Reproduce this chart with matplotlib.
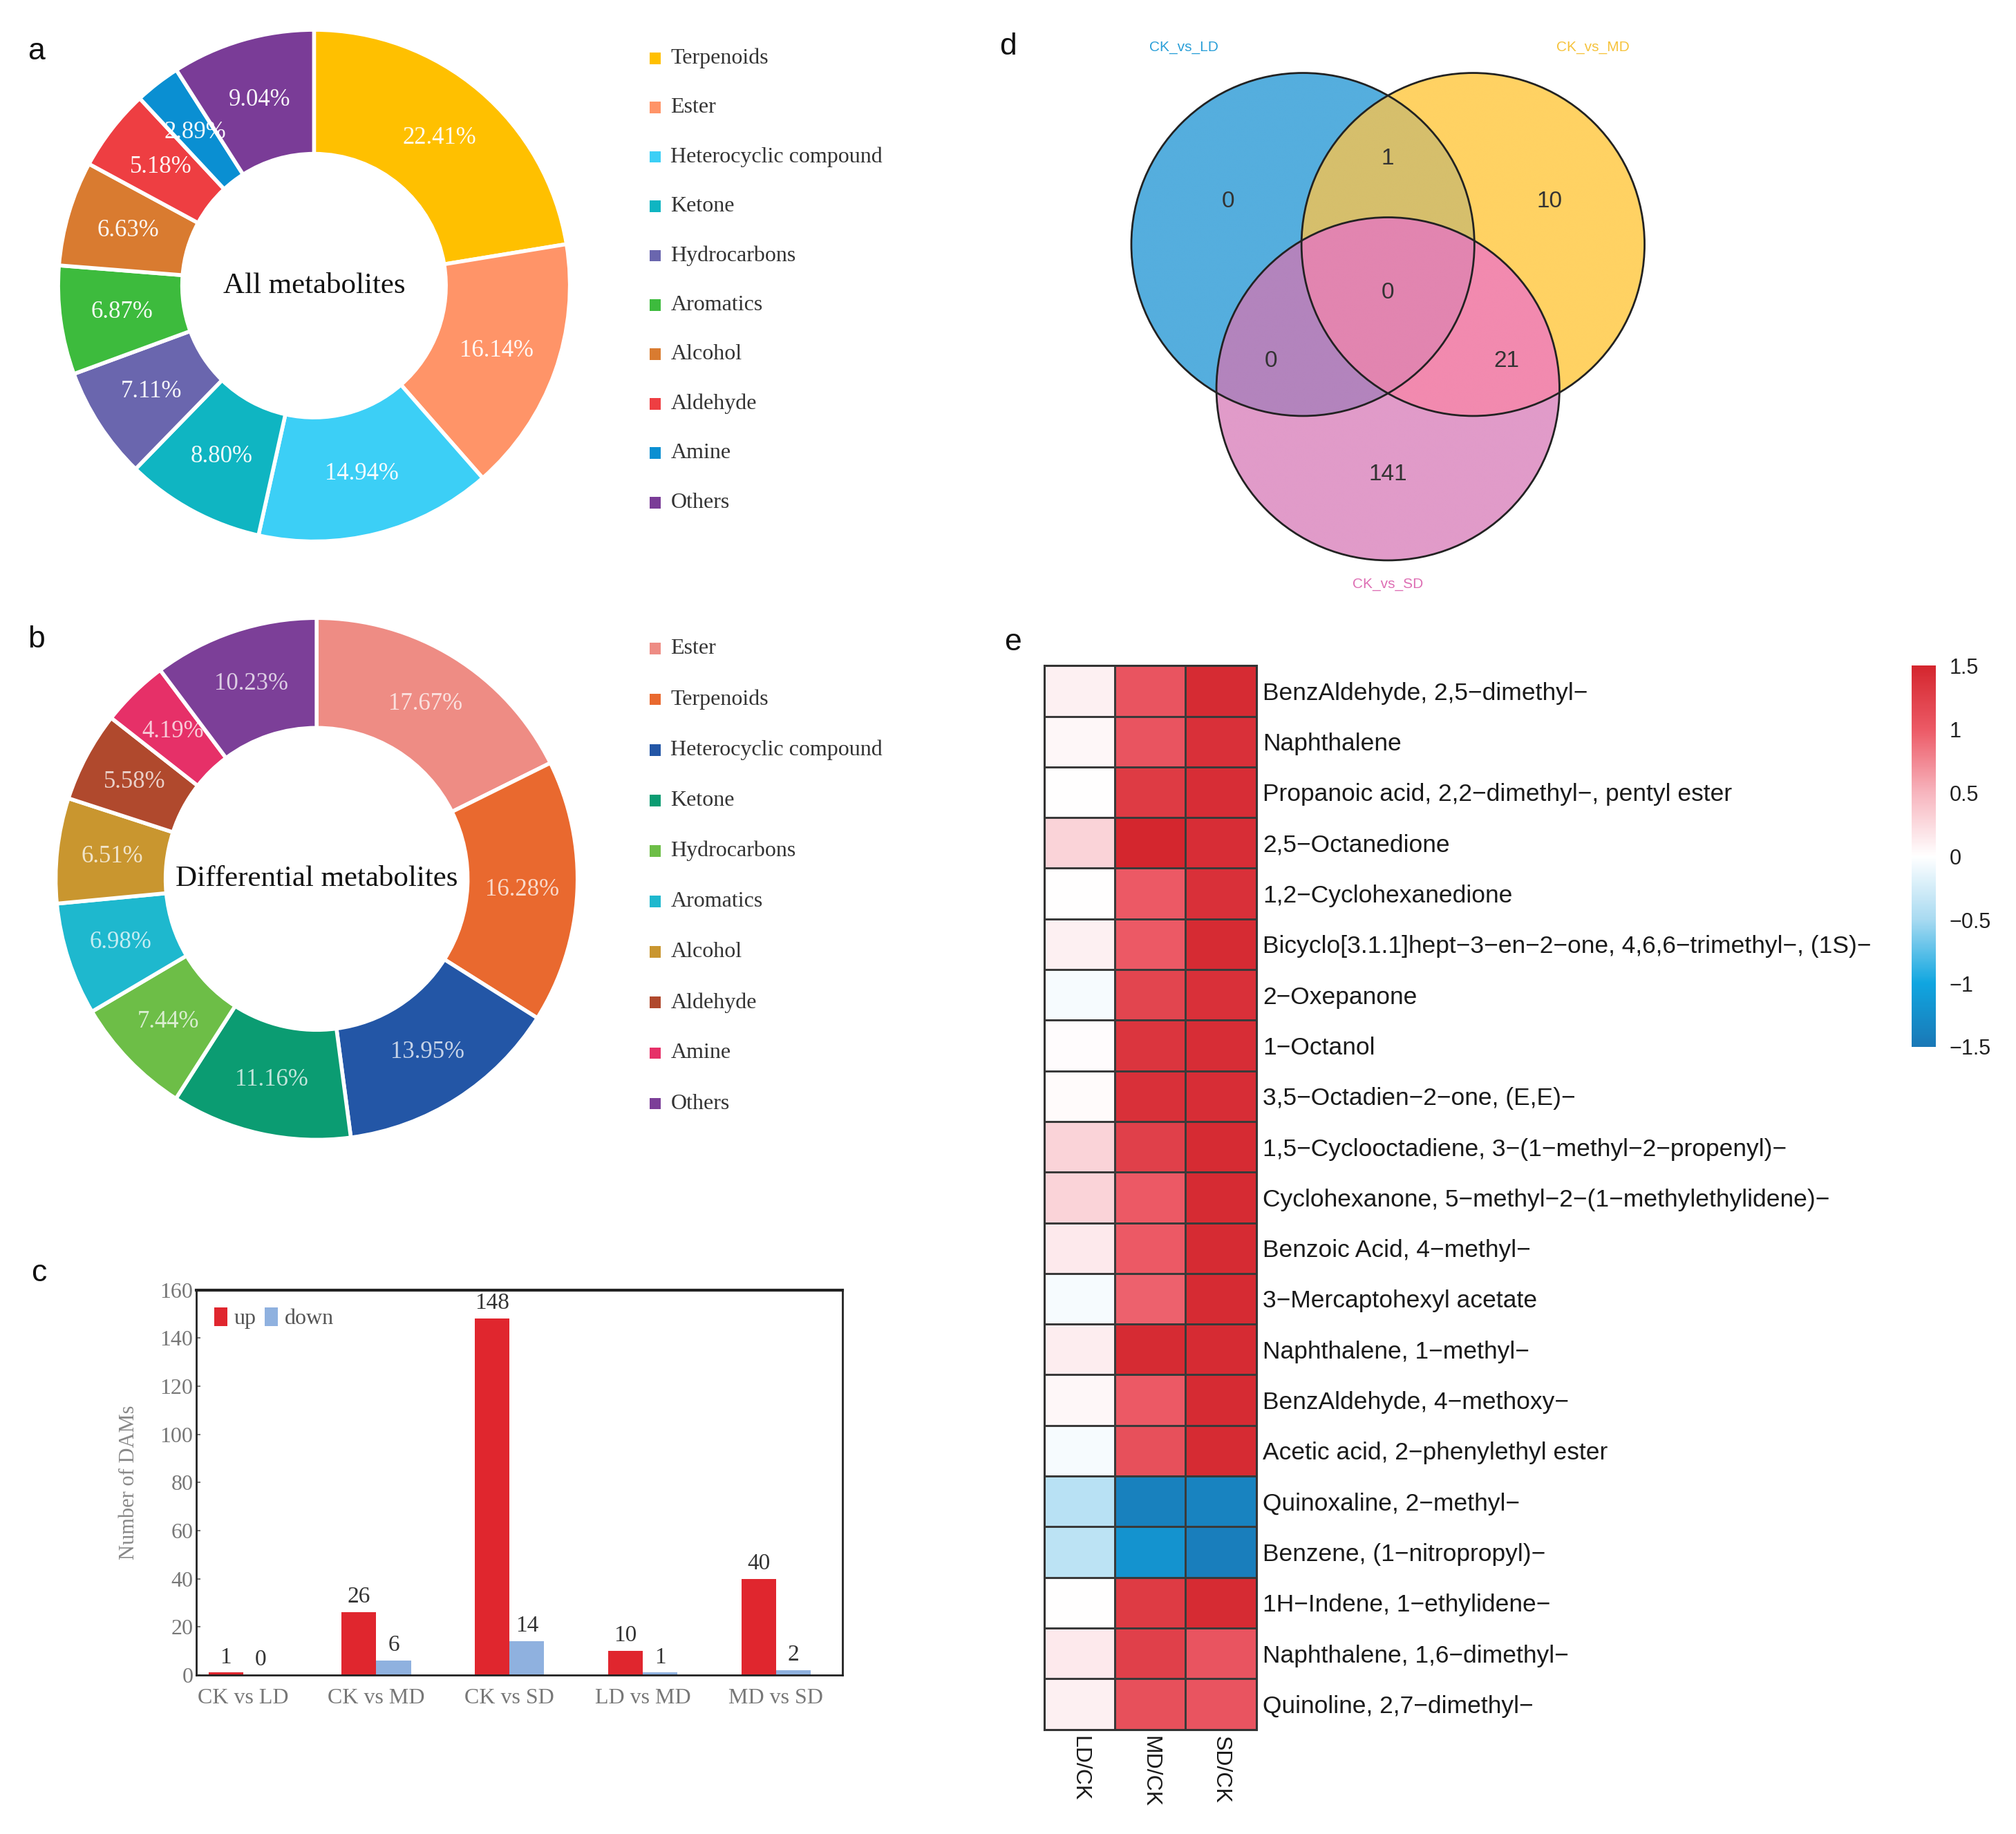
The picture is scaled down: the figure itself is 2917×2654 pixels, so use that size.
"""Metabolite composition donuts, DAM counts, Venn overlap and log2FC heatmap."""
import numpy as np
import matplotlib
matplotlib.use("Agg")
import matplotlib.pyplot as plt
from matplotlib.colors import LinearSegmentedColormap, to_rgb
from matplotlib.patches import Circle, Rectangle

# ---- data -----------------------------------------------------------------
all_classes = ["Terpenoids", "Ester", "Heterocyclic compound", "Ketone", "Hydrocarbons",
               "Aromatics", "Alcohol", "Aldehyde", "Amine", "Others"]
all_pct = [22.41, 16.14, 14.94, 8.80, 7.11, 6.87, 6.63, 5.18, 2.89, 9.04]
all_colors = ["#FFC000", "#FF9468", "#3CCFF6", "#0FB5C2", "#6A66AE",
              "#3DBB3D", "#D97B30", "#EE3E42", "#0A8FD2", "#7A3C97"]

diff_classes = ["Ester", "Terpenoids", "Heterocyclic compound", "Ketone", "Hydrocarbons",
                "Aromatics", "Alcohol", "Aldehyde", "Amine", "Others"]
diff_pct = [17.67, 16.28, 13.95, 11.16, 7.44, 6.98, 6.51, 5.58, 4.19, 10.23]
diff_colors = ["#EE8C84", "#E9692F", "#2356A6", "#0B9C72", "#6DBE47",
               "#1EB8CE", "#C9962F", "#B0492D", "#E63068", "#7C3F98"]

comparisons = ["CK vs LD", "CK vs MD", "CK vs SD", "LD vs MD", "MD vs SD"]
n_up = [1, 26, 148, 10, 40]
n_down = [0, 6, 14, 1, 2]

venn_sets = ["CK_vs_LD", "CK_vs_MD", "CK_vs_SD"]
venn_set_colors = ["#2A9FD8", "#F6C33C", "#DE6FB4"]
# region counts keyed by membership (LD, MD, SD)
venn_counts = {(1, 0, 0): 0, (1, 1, 0): 1, (0, 1, 0): 10, (1, 1, 1): 0,
               (1, 0, 1): 0, (0, 1, 1): 21, (0, 0, 1): 141}
venn_fill = {(1, 0, 0): "#55AEDE", (0, 1, 0): "#FFD263", (0, 0, 1): "#E19BC9",
             (1, 1, 0): "#D6BF6C", (1, 0, 1): "#B384BD", (0, 1, 1): "#F28AAF",
             (1, 1, 1): "#E285B0"}

metabolites = [
    "BenzAldehyde, 2,5\u2212dimethyl\u2212",
    "Naphthalene",
    "Propanoic acid, 2,2\u2212dimethyl\u2212, pentyl ester",
    "2,5\u2212Octanedione",
    "1,2\u2212Cyclohexanedione",
    "Bicyclo[3.1.1]hept\u22123\u2212en\u22122\u2212one, 4,6,6\u2212trimethyl\u2212, (1S)\u2212",
    "2\u2212Oxepanone",
    "1\u2212Octanol",
    "3,5\u2212Octadien\u22122\u2212one, (E,E)\u2212",
    "1,5\u2212Cyclooctadiene, 3\u2212(1\u2212methyl\u22122\u2212propenyl)\u2212",
    "Cyclohexanone, 5\u2212methyl\u22122\u2212(1\u2212methylethylidene)\u2212",
    "Benzoic Acid, 4\u2212methyl\u2212",
    "3\u2212Mercaptohexyl acetate",
    "Naphthalene, 1\u2212methyl\u2212",
    "BenzAldehyde, 4\u2212methoxy\u2212",
    "Acetic acid, 2\u2212phenylethyl ester",
    "Quinoxaline, 2\u2212methyl\u2212",
    "Benzene, (1\u2212nitropropyl)\u2212",
    "1H\u2212Indene, 1\u2212ethylidene\u2212",
    "Naphthalene, 1,6\u2212dimethyl\u2212",
    "Quinoline, 2,7\u2212dimethyl\u2212",
]
ratio_cols = ["LD/CK", "MD/CK", "SD/CK"]
ld_ck = [0.10, 0.05, 0.00, 0.30, 0.00, 0.10, -0.05, 0.02, 0.03, 0.30, 0.30,
         0.15, -0.05, 0.12, 0.05, -0.05, -0.40, -0.38, 0.00, 0.15, 0.10]
md_ck = [1.05, 1.05, 1.30, 1.50, 1.00, 1.00, 1.20, 1.35, 1.40, 1.25, 1.00,
         1.00, 0.95, 1.45, 1.00, 1.10, -1.40, -1.20, 1.30, 1.25, 1.10]
sd_ck = [1.45, 1.40, 1.42, 1.42, 1.40, 1.45, 1.40, 1.42, 1.42, 1.45, 1.45,
         1.45, 1.45, 1.45, 1.45, 1.45, -1.38, -1.42, 1.45, 1.05, 1.05]
cbar_ticks = [-1.5, -1, -0.5, 0, 0.5, 1, 1.5]

# ---- layout helpers (reference measured on a 1560 x 1419 grid) -----------
W, H = 1560.0, 1419.0
SERIF = ["Liberation Serif", "DejaVu Serif"]
SANS = ["Liberation Sans", "DejaVu Sans"]


def box(x0, y0, x1, y1):
    return [x0 / W, 1 - y1 / H, (x1 - x0) / W, (y1 - y0) / H]


fig = plt.figure(figsize=(29.17, 26.54), dpi=100)


def donut(rect, vals, colors, ring, center_text, label_color, label_alpha, csize):
    ax = fig.add_axes(rect)
    wedges, _ = ax.pie(vals, colors=colors, startangle=90, counterclock=False,
                       radius=ring[0], wedgeprops=dict(width=ring[0] - ring[1],
                                                       edgecolor="white", linewidth=4))
    rmid = (ring[0] + ring[1]) / 2
    for w, v in zip(wedges, vals):
        ang = np.deg2rad((w.theta1 + w.theta2) / 2)
        ax.text(rmid * np.cos(ang), rmid * np.sin(ang), f"{v:.2f}%", ha="center",
                va="center", fontsize=25, family=SERIF, color=label_color,
                alpha=label_alpha)
    ax.text(0, 0, center_text, ha="center", va="center", fontsize=csize,
            family=SERIF, color="#111111")
    ax.set_xlim(-1, 1)
    ax.set_ylim(-1, 1)
    ax.set_aspect("equal")
    ax.axis("off")
    return ax


def class_legend(labels, colors, x, y0, dy):
    for i, (lab, col) in enumerate(zip(labels, colors)):
        yc = y0 + i * dy
        fig.add_artist(Rectangle(((x - 4.5) / W, 1 - (yc + 4.5) / H), 9 / W, 9 / H,
                                 transform=fig.transFigure, color=col, lw=0))
        fig.text((x + 12) / W, 1 - yc / H, lab, ha="left", va="center",
                 fontsize=23, family=SERIF, color="#333333")


# ---- a: all metabolites ----------------------------------------------------
donut(box(43, 21, 443, 421), all_pct, all_colors, (0.99, 0.51),
      "All metabolites", "white", 0.95, 31)
class_legend(all_classes, all_colors, 507, 45, 38.2)

# ---- b: differential metabolites ------------------------------------------
donut(box(40, 475, 450, 885), diff_pct, diff_colors, (0.985, 0.57),
      "Differential metabolites", "white", 0.75, 31)
class_legend(diff_classes, diff_colors, 507, 502, 39.1)

# ---- c: number of DAMs ----------------------------------------------------
axc = fig.add_axes(box(152, 998, 652, 1296))
x = np.arange(len(comparisons))
bw = 0.26
b_up = axc.bar(x - bw / 2, n_up, bw, color="#E0262E", label="up")
b_dn = axc.bar(x + bw / 2, n_down, bw, color="#8FB1DF", label="down")
for bars, vals in ((b_up, n_up), (b_dn, n_down)):
    for r, v in zip(bars, vals):
        axc.annotate(str(v), (r.get_x() + r.get_width() / 2, r.get_height()),
                     xytext=(0, 5), textcoords="offset points", ha="center",
                     va="bottom", fontsize=24, family=SERIF, color="#333333")
axc.set_xlim(-0.35, 4.5)
axc.set_ylim(0, 160)
axc.set_yticks(np.arange(0, 161, 20))
axc.set_xticks(x)
axc.set_xticklabels(comparisons)
axc.tick_params(axis="both", labelsize=23, colors="#777777", length=4,
                direction="in", width=1.5)
axc.tick_params(axis="x", length=0, pad=14)
for lab in axc.get_xticklabels() + axc.get_yticklabels():
    lab.set_family(SERIF)
for s in axc.spines.values():
    s.set_linewidth(2)
    s.set_color("#222222")
axc.spines["top"].set_linewidth(3)
axc.set_ylabel("Number of DAMs", fontsize=22, family=SERIF, color="#888888",
               labelpad=22)
axc.legend(loc="upper left", ncol=2, frameon=False, handlelength=0.6,
           handleheight=0.9, handletextpad=0.3, columnspacing=0.4,
           borderaxespad=0.4, prop=dict(family=SERIF, size=23),
           labelcolor="#555555")

# ---- d: Venn -------------------------------------------------------------
axd = fig.add_axes(box(855, 25.5, 1293, 464.5))
centers = [(-0.496, 0.421), (0.496, 0.421), (0.0, -0.421)]
g = np.linspace(-1.65, 1.65, 1400)
gx, gy = np.meshgrid(g, g)
inside = [((gx - cx) ** 2 + (gy - cy) ** 2) <= 1.0 for cx, cy in centers]
img = np.ones(gx.shape + (4,))
img[..., 3] = 0
for key, col in venn_fill.items():
    m = np.ones(gx.shape, bool)
    for flag, ins in zip(key, inside):
        m &= ins if flag else ~ins
    img[m, :3] = to_rgb(col)
    img[m, 3] = 1
axd.imshow(img, extent=(-1.65, 1.65, -1.65, 1.65), origin="lower",
           interpolation="bilinear")
for cx, cy in centers:
    axd.add_patch(Circle((cx, cy), 1.0, fill=False, ec="#222222", lw=2))
count_pos = {(1, 0, 0): (-0.93, 0.67), (1, 1, 0): (0, 0.92), (0, 1, 0): (0.94, 0.67),
             (1, 1, 1): (0, 0.14), (1, 0, 1): (-0.68, -0.26), (0, 1, 1): (0.69, -0.26),
             (0, 0, 1): (0, -0.92)}
for key, n in venn_counts.items():
    px, py = count_pos[key]
    axd.text(px, py, str(n), ha="center", va="center", fontsize=24,
             family=SANS, color="#333333")
for name, col, (px, py) in zip(venn_sets, venn_set_colors,
                               [(-1.19, 1.57), (1.195, 1.57), (0, -1.56)]):
    axd.text(px, py, name, ha="center", va="center", fontsize=15,
             family=SANS, color=col)
axd.set_xlim(-1.65, 1.65)
axd.set_ylim(-1.65, 1.65)
axd.set_aspect("equal")
axd.axis("off")

# ---- e: heatmap ----------------------------------------------------------
cmap = LinearSegmentedColormap.from_list(
    "fc", [(0.0, "#1A78B6"), (1 / 6, "#10A6E0"), (2 / 6, "#A8DAF1"), (0.5, "#FFFFFF"),
           (4 / 6, "#F7B5BE"), (5 / 6, "#EC5A66"), (1.0, "#D4262E")])
vals = np.column_stack([ld_ck, md_ck, sd_ck])
axe = fig.add_axes(box(808, 515, 972, 1338))
mesh = axe.pcolormesh(vals, cmap=cmap, vmin=-1.5, vmax=1.5,
                      edgecolors="#3a3a3a", linewidth=1.8)
axe.set_xlim(0, 3)
axe.set_ylim(len(metabolites), 0)
axe.set_yticks(np.arange(len(metabolites)) + 0.5)
axe.set_yticklabels(metabolites, family=SANS, fontsize=25.5, color="#1a1a1a")
axe.yaxis.tick_right()
axe.set_xticks(np.arange(3) + 0.5)
axe.set_xticklabels(ratio_cols, rotation=270, family=SANS, fontsize=23,
                    color="#1a1a1a")
axe.tick_params(length=0, pad=7)
for s in axe.spines.values():
    s.set_linewidth(2.2)
    s.set_color("#333333")

axcb = fig.add_axes(box(1479, 515, 1498, 810))
cb = fig.colorbar(mesh, cax=axcb, ticks=cbar_ticks)
cb.outline.set_visible(False)
cb.ax.set_yticklabels([f"{t:g}".replace("-", "\u2212") for t in cbar_ticks])
cb.ax.tick_params(length=0, labelsize=22, pad=14, labelcolor="#222222")
for lab in cb.ax.get_yticklabels():
    lab.set_family(SANS)

# ---- panel letters --------------------------------------------------------
for letter, (lx, ly) in zip("abcde", [(28, 40), (28, 495), (30, 985), (780, 36), (784, 497)]):
    fig.text(lx / W, 1 - ly / H, letter, ha="center", va="center", fontsize=32,
             family=SANS, color="#111111")

fig.savefig("out.png", dpi=100, facecolor="white")
plt.close(fig)
